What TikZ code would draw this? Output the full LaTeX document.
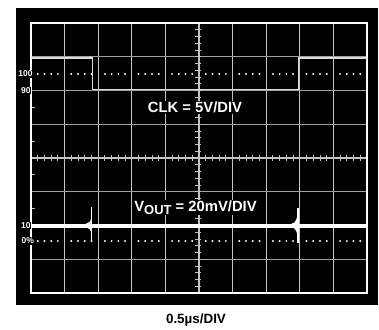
\documentclass[tikz,border=0pt]{standalone}
\usepackage{fontspec}
\setmainfont{Liberation Sans}
\definecolor{gridv}{HTML}{C4C4C4}
\definecolor{gridh}{HTML}{A0A0A0}
\definecolor{clk}{HTML}{DCDCDC}
\begin{document}
\begin{tikzpicture}[x=1pt,y=-1pt,
  lbl/.style={font=\bfseries\fontsize{8.5}{9}\selectfont, text=white, fill=black, inner sep=0.8pt, anchor=east},
  big/.style={font=\bfseries\fontsize{14.8}{16}\selectfont, text=white, fill=black, inner sep=1pt, anchor=base},
  vline/.style={draw=gridv, line width=1pt},
  hline/.style={draw=gridh, line width=1pt},
  axis/.style={draw=gridv, line width=1.2pt},
  tick/.style={draw=gridv, line width=0.9pt},
  dot/.style={fill=white}]
\useasboundingbox[fill=white] (0,0) rectangle (379,329);
\fill[black] (16,8) rectangle (378,305);
% grid
\foreach \i in {1,2,3,4,6,7,8,9} \draw[vline] ({31+33.6*\i},23) -- ({31+33.6*\i},293);
\foreach \j in {1,2,3,5,6,7} \draw[hline] (31,{23+33.75*\j}) -- (367,{23+33.75*\j});
% centre axes with minor ticks
\draw[axis] (199,23) -- (199,293);
\draw[axis] (31,158) -- (367,158);
\foreach \k in {1,...,49} \draw[tick] ({31+6.72*\k},155) -- ({31+6.72*\k},161);
\foreach \k in {1,...,39} \draw[tick] (195,{23+6.75*\k}) -- (200.5,{23+6.75*\k});
% left border ticks
\foreach \y in {107.4,141.1,174.9,208.6} \draw[tick] (31,\y) -- (34.5,\y);
% border
\draw[white, line width=1.5pt] (31,23) rectangle (367,293);
% dotted reference lines
\foreach \i in {0,...,9} \foreach \k in {1,...,4} {
  \fill[dot] ({31+33.6*\i+6.72*\k},74) circle (1.1pt);
  \fill[dot] ({31+33.6*\i+6.72*\k},241) circle (1.1pt);
}
% clock trace
\draw[clk, line width=1.6pt, line join=miter] (31,58) -- (92.5,58) -- (92.5,89.3) -- (298.5,89.3) -- (298.5,58) -- (367,58);
\fill[clk] (90.5,57.5) circle (1.3pt);
% output trace
\draw[white, line width=4pt] (31,225.5) -- (367,225.5);
\fill[white] (86,223.6) .. controls (89,223.6) and (91,221.5) .. (91.6,216) -- (91.6,235) .. controls (91,229.5) and (89,227.4) .. (86,227.4) -- cycle;
\draw[white, line width=1.3pt] (91.6,207) -- (91.6,242);
\fill[white] (291.5,223.6) .. controls (296,223.6) and (297.5,218) .. (298,209) -- (298,240) .. controls (297.5,233) and (296,227.4) .. (291.5,227.4) -- cycle;
\draw[white, line width=1.3pt] (298,208) -- (298,243);
% labels
\node[lbl] (l100) at (33.5,74) {100};
\node[lbl] (l90) at (31.5,90.5) {90};
\node[lbl] (l10) at (31.5,225.5) {10};
\node[lbl] (l0) at (35,241) {0\%};
\node[big] (clklbl) at (195,112.6) {CLK = 5V/DIV};
\node[big] (voutlbl) at (195.5,211.7) {V\raisebox{-2.6pt}{\fontsize{13}{14}\selectfont OUT} = 20mV/DIV};
\node[font=\bfseries\fontsize{13.4}{15}\selectfont, text=black, inner sep=0pt, anchor=base] (tdiv) at (196,323) {0.5µs/DIV};
\end{tikzpicture}
\end{document}
